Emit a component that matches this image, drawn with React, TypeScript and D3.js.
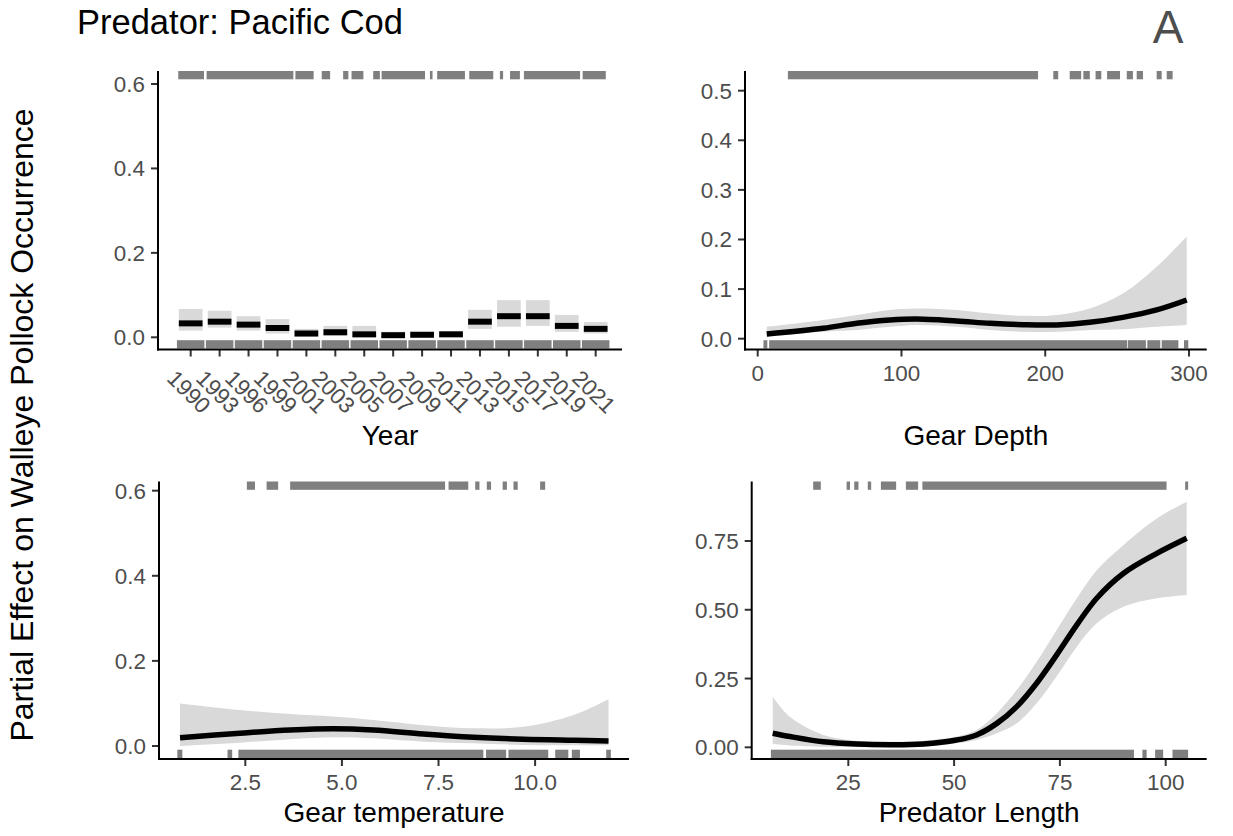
import React from 'react';
import * as d3 from 'd3';

// ---------- DATA ----------
const years = ['1990','1993','1996','1999','2001','2003','2005','2007','2009','2011','2013','2015','2017','2019','2021'];
const yearMean = [0.033,0.037,0.030,0.022,0.009,0.012,0.007,0.005,0.006,0.007,0.037,0.050,0.050,0.027,0.020];
const yearLower = [0.016,0.023,0.016,0.009,0.001,0.003,0.000,0.000,0.000,0.001,0.020,0.025,0.027,0.013,0.009];
const yearUpper = [0.067,0.063,0.050,0.043,0.020,0.027,0.027,0.013,0.013,0.015,0.065,0.088,0.088,0.053,0.036];
// rug intervals (in year-index units)
const yearRugTop: [number, number][] = [[-0.43,0.46],[0.55,3.55],[3.62,4.25],[4.53,4.82],[5.27,5.45],[5.56,5.97],[6.31,6.54],[6.6,8.1],[8.27,8.36],[8.52,9.48],[9.63,10.46],[10.69,10.8],[11.04,11.38],[11.52,13.46],[13.55,14.35]];

const depthX = [6.3,45.6,68.9,92,110.6,138.4,161.6,184.8,208,231,254,277.5,298.4];
const depthFit = [0.0095,0.021,0.031,0.0377,0.0397,0.0357,0.031,0.0282,0.0278,0.033,0.043,0.058,0.078];
const depthUpper = [0.024,0.0377,0.048,0.058,0.061,0.058,0.051,0.046,0.048,0.061,0.091,0.145,0.206];
const depthLower = [0.004,0.014,0.0175,0.024,0.0276,0.024,0.0175,0.014,0.014,0.0175,0.019,0.024,0.0276];
const depthRugTop: [number, number][] = [[21,195],[205.6,209],[217,225],[226.5,231],[235,239],[243,252],[256.7,261],[263.6,268],[277.5,281],[284.5,288.6]];
const depthRugBottom: [number, number][] = [[4,6.7],[8,257],[257.5,270],[271,280],[281,292.6],[296.5,299.5]];
const depthTicks = [0,100,200,300];
const depthYTicks = [0,0.1,0.2,0.3,0.4,0.5];

const tempX = [0.81,2.36,3.66,4.78,5.81,7.11,8.4,9.7,11.0,11.9];
const tempFit = [0.0196,0.030,0.0376,0.0407,0.0376,0.028,0.0204,0.0157,0.0133,0.0118];
const tempUpper = [0.100,0.0846,0.075,0.069,0.061,0.049,0.0415,0.0454,0.073,0.110];
const tempLower = [0.0,0.0078,0.0157,0.0204,0.018,0.010,0.0063,0.0024,0.0016,0.0016];
const tempRugTop: [number, number][] = [[2.54,2.75],[3.05,3.35],[3.66,7.67],[7.76,8.27],[8.45,8.56],[8.75,8.86],[9.16,9.27],[9.44,9.55],[10.13,10.26]];
const tempRugBottom: [number, number][] = [[0.74,0.87],[2.04,2.16],[2.32,8.66],[8.73,9.25],[9.31,10.34],[10.52,10.86],[10.95,11.16],[11.84,11.96]];
const tempTicks = [2.5,5.0,7.5,10.0];

const lenX = [7.14,11.2,19.1,27.0,34.9,42.7,50.6,55.3,60.1,64.8,69.5,74.2,79.0,83.7,89.98,97.9,104.96];
const lenFit = [0.051,0.039,0.020,0.012,0.0095,0.012,0.0265,0.045,0.087,0.148,0.233,0.335,0.445,0.542,0.632,0.705,0.760];
const lenUpper = [0.184,0.111,0.045,0.024,0.020,0.024,0.039,0.063,0.124,0.208,0.311,0.426,0.542,0.644,0.735,0.832,0.893];
const lenLower = [0.012,0.007,0.002,0.0,0.0,0.002,0.0145,0.0265,0.051,0.087,0.160,0.257,0.366,0.451,0.511,0.542,0.554];
const lenRugTop: [number, number][] = [[16.7,18.5],[24.6,25.4],[26.4,27.4],[29.6,30.4],[32.7,36.3],[38.6,41.5],[42.5,100.2],[104.6,105.3]];
const lenRugBottom: [number, number][] = [[6.7,92.5],[94.5,95.5],[97.5,99.4],[101.6,105.3]];
const lenTicks = [25,50,75,100];
const lenYTicks = [0,0.25,0.5,0.75];

const prob3Ticks = [0,0.2,0.4,0.6];

// ---------- STYLE ----------
const FONT = '"Liberation Sans", Arial, Helvetica, sans-serif';
const TICK_FS = 22.4;
const TITLE_FS = 28;
const RUG = '#7f7f7f';
const BAND = '#d9d9d9';
const TICK_LEN = 7;

type Scale = d3.ScaleLinear<number, number>;

function Axes({ x, y, xTicks, yTicks, xFmt, yFmt, xLabels }: {
  x: Scale; y: Scale; xTicks: number[]; yTicks: number[];
  xFmt: (v: number) => string; yFmt: (v: number) => string; xLabels?: boolean;
}) {
  const [x0, x1] = x.range();
  const [yb, yt] = y.range();
  return (
    <g>
      {yTicks.map((t) => (
        <g key={'y' + t}>
          <line x1={x0 - TICK_LEN} x2={x0} y1={y(t)} y2={y(t)} stroke="#333333" strokeWidth={2} />
          <text x={x0 - 13} y={y(t) + 8} textAnchor="end" fontSize={TICK_FS} fill="#4d4d4d" fontFamily={FONT}>{yFmt(t)}</text>
        </g>
      ))}
      {xTicks.map((t) => (
        <g key={'x' + t}>
          <line x1={x(t)} x2={x(t)} y1={yb} y2={yb + TICK_LEN} stroke="#333333" strokeWidth={2} />
          {xLabels !== false && (
            <text x={x(t)} y={yb + 31} textAnchor="middle" fontSize={TICK_FS} fill="#4d4d4d" fontFamily={FONT}>{xFmt(t)}</text>
          )}
        </g>
      ))}
      <line x1={x0} x2={x0} y1={yt} y2={yb + 1} stroke="#000" strokeWidth={2} />
      <line x1={x0 - 1} x2={x1} y1={yb} y2={yb} stroke="#000" strokeWidth={2} />
    </g>
  );
}

function Rugs({ x, y, top, bottom }: { x: Scale; y: Scale; top: [number, number][]; bottom: [number, number][] }) {
  const [yb, yt] = y.range();
  return (
    <g fill={RUG}>
      {top.map((r, i) => (
        <rect key={'t' + i} x={x(r[0])} width={x(r[1]) - x(r[0])} y={yt} height={8.3} />
      ))}
      {bottom.map((r, i) => (
        <rect key={'b' + i} x={x(r[0])} width={x(r[1]) - x(r[0])} y={yb - 9.3} height={8.3} />
      ))}
    </g>
  );
}

function SmoothPanel({ x, y, xs, fit, lo, hi }: { x: Scale; y: Scale; xs: number[]; fit: number[]; lo: number[]; hi: number[] }) {
  const idx = xs.map((_, i) => i);
  const curve = d3.curveCatmullRom.alpha(0.5);
  const area = d3.area<number>().x((i) => x(xs[i])).y0((i) => y(lo[i])).y1((i) => y(hi[i])).curve(curve);
  const line = d3.line<number>().x((i) => x(xs[i])).y((i) => y(fit[i])).curve(curve);
  return (
    <g>
      <path d={area(idx) || ''} fill={BAND} />
      <path d={line(idx) || ''} fill="none" stroke="#000" strokeWidth={5.5} />
    </g>
  );
}

export default function App() {
  // Panel A: Year
  const xY = d3.scaleLinear().domain([-1.13, 14.91]).range([158, 622]);
  const yY = d3.scaleLinear().domain([-0.0289, 0.6308]).range([349.5, 71]);
  // Panel B: Depth
  const xD = d3.scaleLinear().domain([-8.83, 312.3]).range([745, 1206.7]);
  const yD = d3.scaleLinear().domain([-0.0218, 0.5397]).range([349.5, 71]);
  // Panel C: Temperature
  const xT = d3.scaleLinear().domain([0.266, 12.43]).range([159, 629]);
  const yT = d3.scaleLinear().domain([-0.0306, 0.6216]).range([759, 481.5]);
  // Panel D: Length
  const xL = d3.scaleLinear().domain([2.17, 109.69]).range([751.7, 1206.7]);
  const yL = d3.scaleLinear().domain([-0.0425, 0.9663]).range([759, 481.5]);

  const f1 = d3.format('.1f');
  const f2 = d3.format('.2f');
  const yearIdx = years.map((_, i) => i);
  const yearRugBottom: [number, number][] = yearIdx.map((i) => [i - 0.475, i + 0.475]);
  const halfW = 0.41;

  return (
    <svg width={1233} height={836} style={{ position: 'absolute', left: 0, top: 0, background: '#fff' }} fontFamily={FONT}>
      <rect x={0} y={0} width={1233} height={836} fill="#fff" />
      <text x={77} y={34} fontSize={34.5} fill="#000">Predator: Pacific Cod</text>
      <text x={1168} y={43} fontSize={46} fill="#4d4d4d" textAnchor="middle">A</text>
      <text transform="translate(33,425) rotate(-90)" textAnchor="middle" fontSize={32} fill="#000">Partial Effect on Walleye Pollock Occurrence</text>

      {/* Panel Year */}
      <g>
        {yearIdx.map((i) => (
          <rect key={'ci' + i} x={xY(i - halfW)} width={xY(i + halfW) - xY(i - halfW)} y={yY(yearUpper[i])} height={yY(yearLower[i]) - yY(yearUpper[i])} fill={BAND} />
        ))}
        {yearIdx.map((i) => (
          <line key={'m' + i} x1={xY(i - halfW)} x2={xY(i + halfW)} y1={yY(yearMean[i])} y2={yY(yearMean[i])} stroke="#000" strokeWidth={6} />
        ))}
        <Rugs x={xY} y={yY} top={yearRugTop} bottom={yearRugBottom} />
        <Axes x={xY} y={yY} xTicks={yearIdx} yTicks={prob3Ticks} xFmt={(v) => years[v]} yFmt={f1} xLabels={false} />
        {yearIdx.map((i) => (
          <text key={'yl' + i} transform={`translate(${xY(i) - 2},392) rotate(45)`} textAnchor="middle" dominantBaseline="central" fontSize={TICK_FS} fill="#4d4d4d">{years[i]}</text>
        ))}
        <text x={(xY.range()[0] + xY.range()[1]) / 2} y={445} textAnchor="middle" fontSize={TITLE_FS} fill="#000">Year</text>
      </g>

      {/* Panel Depth */}
      <g>
        <SmoothPanel x={xD} y={yD} xs={depthX} fit={depthFit} lo={depthLower} hi={depthUpper} />
        <Rugs x={xD} y={yD} top={depthRugTop} bottom={depthRugBottom} />
        <Axes x={xD} y={yD} xTicks={depthTicks} yTicks={depthYTicks} xFmt={(v) => String(v)} yFmt={f1} />
        <text x={(xD.range()[0] + xD.range()[1]) / 2} y={445} textAnchor="middle" fontSize={TITLE_FS} fill="#000">Gear Depth</text>
      </g>

      {/* Panel Temperature */}
      <g>
        <SmoothPanel x={xT} y={yT} xs={tempX} fit={tempFit} lo={tempLower} hi={tempUpper} />
        <Rugs x={xT} y={yT} top={tempRugTop} bottom={tempRugBottom} />
        <Axes x={xT} y={yT} xTicks={tempTicks} yTicks={prob3Ticks} xFmt={f1} yFmt={f1} />
        <text x={(xT.range()[0] + xT.range()[1]) / 2} y={822} textAnchor="middle" fontSize={TITLE_FS} fill="#000">Gear temperature</text>
      </g>

      {/* Panel Length */}
      <g>
        <SmoothPanel x={xL} y={yL} xs={lenX} fit={lenFit} lo={lenLower} hi={lenUpper} />
        <Rugs x={xL} y={yL} top={lenRugTop} bottom={lenRugBottom} />
        <Axes x={xL} y={yL} xTicks={lenTicks} yTicks={lenYTicks} xFmt={(v) => String(v)} yFmt={f2} />
        <text x={(xL.range()[0] + xL.range()[1]) / 2} y={822} textAnchor="middle" fontSize={TITLE_FS} fill="#000">Predator Length</text>
      </g>
    </svg>
  );
}
